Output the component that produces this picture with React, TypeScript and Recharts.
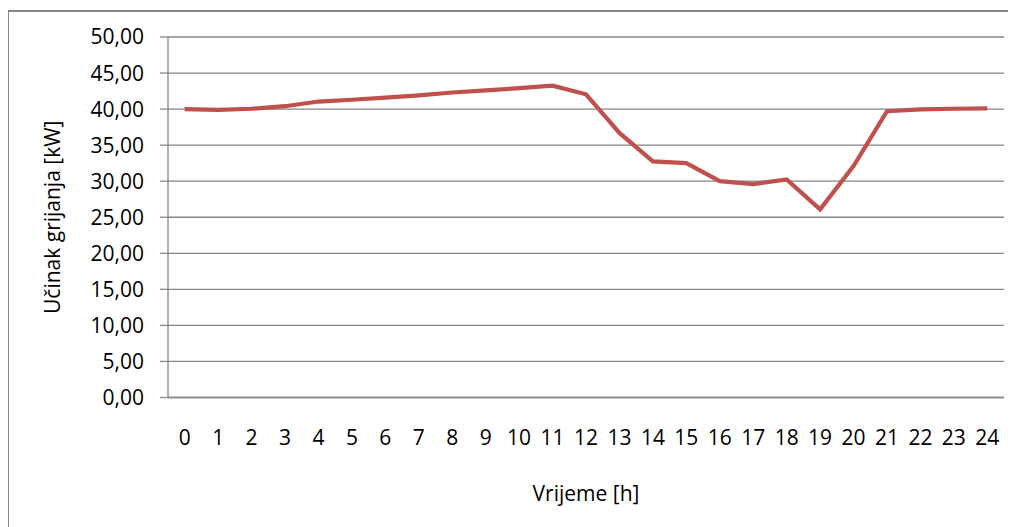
import { CartesianGrid, Label, Line, LineChart, XAxis, YAxis } from 'recharts';

const hours = ['0', '1', '2', '3', '4', '5', '6', '7', '8', '9', '10', '11', '12', '13', '14', '15', '16', '17', '18', '19', '20', '21', '22', '23', '24'];
const power = [40.0, 39.9, 40.05, 40.4, 41.05, 41.3, 41.6, 41.9, 42.3, 42.6, 42.9, 43.25, 42.05, 36.7, 32.75, 32.5, 30.0, 29.6, 30.25, 26.1, 32.1, 39.7, 39.95, 40.05, 40.1];
const yTicks = [0, 5, 10, 15, 20, 25, 30, 35, 40, 45, 50];

const rows = hours.map((h, i) => ({ h, p: power[i] }));
const font = { fontFamily: '"Open Sans", sans-serif', fontSize: 21, fill: '#000' };
const grey = '#868686';

export default function App() {
  return (
    <div style={{ position: 'relative', width: 1008, height: 519, fontFamily: '"Open Sans", sans-serif' }}>
      <div style={{ position: 'absolute', left: -1, top: 2, right: 0, bottom: 0, borderTop: `2px solid ${grey}`, borderLeft: `2px solid ${grey}` }} />
      <LineChart width={1008} height={519} data={rows} margin={{ top: 29, right: 12, bottom: 0, left: 0 }}>
        <CartesianGrid horizontal vertical={false} stroke={grey} strokeWidth={1.3} />
        <XAxis dataKey="h" height={129.5} padding={{ left: 16.7, right: 16.7 }} stroke={grey} strokeWidth={1.3}
          tickLine={false} tickSize={8} tickMargin={25} tick={font} interval={0}>
          <Label value="Vrijeme [h]" position="insideBottom" offset={26} style={font} />
        </XAxis>
        <YAxis width={160} domain={[0, 50]} ticks={yTicks} stroke={grey} strokeWidth={1.3}
          tickSize={8} tickMargin={16} tick={font} tickFormatter={(v: number) => v.toFixed(2).replace('.', ',')}>
          <Label value="Učinak grijanja [kW]" angle={-90} position="insideLeft" offset={45} style={{ ...font, textAnchor: 'middle' }} />
        </YAxis>
        <Line type="linear" dataKey="p" stroke="#C0504D" strokeWidth={4.2} dot={false} isAnimationActive={false} />
      </LineChart>
    </div>
  );
}
